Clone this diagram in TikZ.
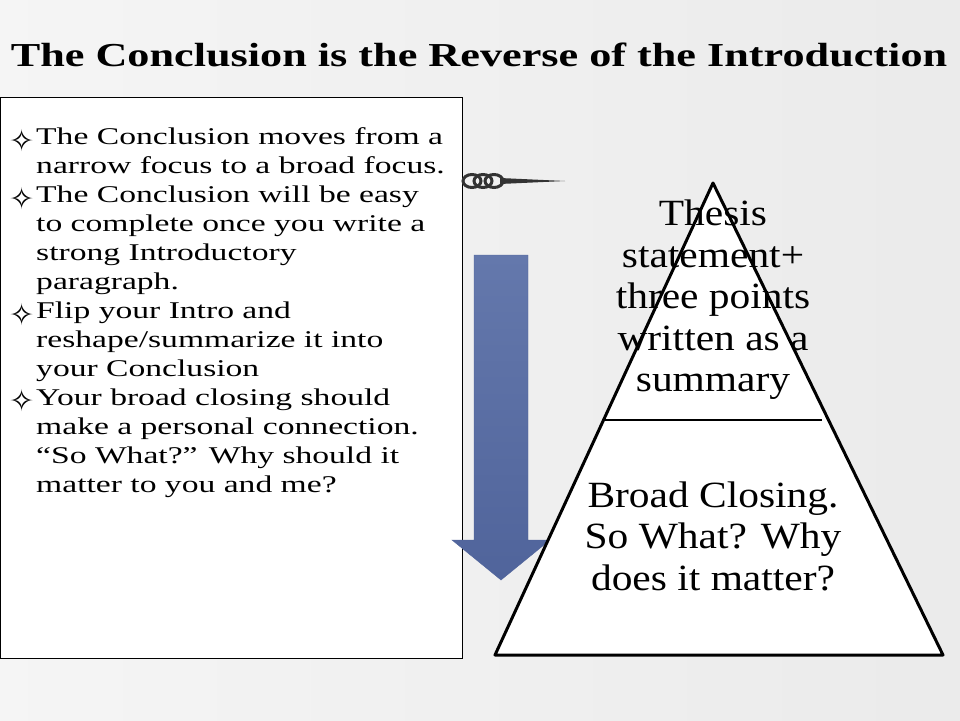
\documentclass[tikz,border=0pt]{standalone}
\usepackage{fontspec}
\setmainfont{Liberation Serif}
\newfontfamily\listf[FakeStretch=1.4]{Liberation Serif}
\newfontfamily\titlef[FakeStretch=1.32]{Liberation Serif}
\newfontfamily\pyrf[FakeStretch=1.12]{Liberation Serif}
\newfontfamily\symf{DejaVu Sans}
\definecolor{arrA}{RGB}{100,120,172}
\definecolor{arrB}{RGB}{80,100,155}
\begin{document}
\begin{tikzpicture}[x=1pt,y=-1pt,
  txt/.style={font=\listf\fontsize{24}{29}\selectfont,anchor=north west,align=left,inner sep=0pt},
  pyr/.style={font=\pyrf\fontsize{37}{41.5}\selectfont,align=center,inner sep=0pt}]
\useasboundingbox (0,0) rectangle (960,720);
\shade[left color=black!4,right color=black!8] (0,0) rectangle (960,720);
\node[font=\titlef\bfseries\fontsize{33.5}{36}\selectfont,inner sep=0pt] (title) at (479,55) {The Conclusion is the Reverse of the Introduction};
\node[draw=black,fill=white,minimum width=462,minimum height=561,anchor=north west,inner sep=0pt] (box) at (0,97) {};
\foreach \y/\n in {128/1,186/2,302/3,388/4}{\node[font=\symf\fontsize{30}{32}\selectfont,inner sep=0pt] (b\n) at (22,\y+13) {✧};}
\node[txt] (t1) at (36,127) {The Conclusion moves from a\\narrow focus to a broad focus.\\The Conclusion will be easy\\to complete once you write a\\strong Introductory\\paragraph.\\Flip your Intro and\\reshape/summarize it into\\your Conclusion\\Your broad closing should\\make a personal connection.\\“So What?” Why should it\\matter to you and me?};
% swirl
\foreach \i in {0,1,2}{\draw[line width=3pt,black!80] (472+\i*11,181) ellipse (9 and 6.5);}
\fill[black!80] (500,178) -- (565,181) -- (500,184) -- cycle;
% arrow
\shade[top color=arrA,bottom color=arrB,draw=arrB]
 (474,255) -- (528,255) -- (528,540) -- (550,540) -- (501,580) -- (452,540) -- (474,540) -- cycle;
% pyramid
\coordinate (A) at (713,183);
\coordinate (L) at (495,655);
\coordinate (R) at (943,655);
\fill[white,draw=black,line width=3pt,line join=round] (A) -- (R) -- (L) -- cycle;
\draw[line width=2.5pt] (604,420) -- (822,420);
\node[pyr] (top) at (713,300) {Thesis\\statement+\\three points\\written as a\\summary};
\node[pyr] (bot) at (713,536) {Broad Closing.\\So What? Why\\does it matter?};
\end{tikzpicture}
\end{document}
